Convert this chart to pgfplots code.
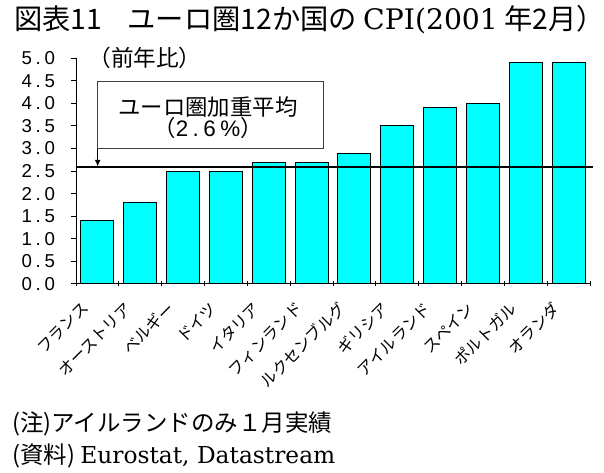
\documentclass[border=0pt]{standalone}
\usepackage{pgfplots}
\pgfplotsset{compat=1.18}
\usepackage{pgfplotstable}
\usepackage{fontspec}
\usetikzlibrary{arrows.meta}
\setmainfont{Noto Sans CJK JP}
\newfontfamily\jpfont{Noto Sans CJK JP}
\newfontfamily\seriffont{DejaVu Serif}
\newfontfamily\numfont[LetterSpace=20]{Liberation Sans}
\definecolor{barcyan}{RGB}{0,255,255}

% CPI, year-on-year change (%), February 2001
\pgfplotstableread{
x  cpi
0  1.4
1  1.8
2  2.5
3  2.5
4  2.7
5  2.7
6  2.9
7  3.5
8  3.9
9  4.0
10 4.9
11 4.9
}\cpitable

\begin{document}
\begin{tikzpicture}[x=0.75pt,y=0.75pt]
\useasboundingbox (0,0) rectangle (604,473);
\coordinate (axisorigin) at (76,189);

% title
\node[anchor=west, inner sep=0pt] at (14,453)
  {\jpfont\fontsize{21.2}{21.2}\selectfont 図表11\hspace{0.9em}ユーロ圏12か国の {\seriffont CPI(2001} 年2月）};

\begin{axis}[
  at={(axisorigin)}, anchor=south west,
  scale only axis, width=385.5pt, height=169.3pt,
  xmin=-0.5, xmax=11.5, ymin=0, ymax=5,
  clip=false,
  axis x line=bottom, axis y line=left,
  axis line style={-, line width=0.75pt},
  tick align=outside,
  major tick length=3.75pt,
  tick style={black, line width=0.75pt},
  ytick={0,0.5,1,1.5,2,2.5,3,3.5,4,4.5,5},
  /pgf/number format/assume math mode=true,
  yticklabel style={font=\numfont\fontsize{14}{14}\selectfont, xshift=-8.5pt,
    /pgf/number format/.cd, fixed, fixed zerofill, precision=1},
  xtick={-0.5,0.5,...,11.5},
  x tick label as interval,
  x tick style={yshift=1.9pt},
  xticklabels={フランス, オーストリア, ベルギー, ドイツ, イタリア, フィンランド,
    ルクセンブルグ, ギリシア, アイルランド, スペイン, ポルトガル, オランダ},
  xticklabel style={font=\jpfont\fontsize{12}{12}\selectfont,
    rotate=45, anchor=east, inner sep=0pt, xshift=-15pt, yshift=-2.4pt},
  ybar, bar width=24.75pt,
]
\addplot[fill=barcyan, draw=black, line width=0.75pt] table[x=x, y=cpi]{\cpitable};
% euro-area weighted average
\addplot[sharp plot, black, line width=1.6pt, forget plot] coordinates {(-0.5,2.6) (11.57,2.6)};
\end{axis}

% unit note
\node[inner sep=0pt] at (145,415) {\jpfont\fontsize{17}{17}\selectfont （前年比）};

% callout for the average line
\draw[line width=0.75pt, draw=black!75] (97.7,324) rectangle (323,391);
\node[inner sep=0pt] at (208,366) {\jpfont\fontsize{16.8}{16.8}\selectfont ユーロ圏加重平均};
\node[inner sep=0pt] at (208,345) {\jpfont\fontsize{16.8}{16.8}\selectfont （{\numfont 2.6\%}）};
\draw[line width=0.75pt, -{Latex[length=5pt, width=4.5pt]}] (97.7,324) -- (97.7,306.5);

% notes
\node[anchor=west, inner sep=0pt] at (12,49)
  {\jpfont\fontsize{17.6}{17.6}\selectfont (注)アイルランドのみ１月実績};
\node[anchor=west, inner sep=0pt] at (12,17)
  {\jpfont\fontsize{17.6}{17.6}\selectfont (資料) {\seriffont\fontsize{17.5}{17.5}\selectfont Eurostat, Datastream}};
\end{tikzpicture}
\end{document}
